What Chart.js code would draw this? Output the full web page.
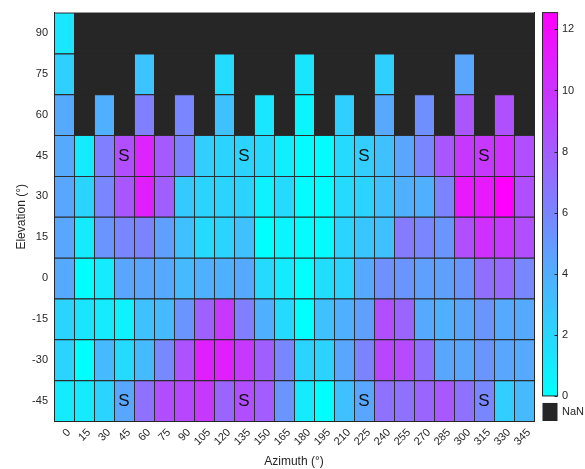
<!DOCTYPE html>
<html>
<head>
<meta charset="utf-8">
<script src="https://cdn.jsdelivr.net/npm/chart.js@4/dist/chart.umd.min.js"></script>
<style>
  html, body { margin: 0; padding: 0; background: #ffffff; }
  #wrap { width: 585px; height: 469px; }
</style>
</head>
<body>
<div id="wrap"><canvas id="heat" width="585" height="469"></canvas></div>
<script>
// Azimuth columns and elevation rows of the grid (degrees)
const azimuths = [0, 15, 30, 45, 60, 75, 90, 105, 120, 135, 150, 165,
                  180, 195, 210, 225, 240, 255, 270, 285, 300, 315, 330, 345];
const elevations = [-45, -30, -15, 0, 15, 30, 45, 60, 75, 90];

// Cell values per elevation row, one entry per azimuth (null = NaN)
const elevM45 = [1.0, 1.0, 2.1, 4.4, 7.0, 8.7, 9.1, 9.8, 7.6, 8.7, 8.0, 5.2,
                 1.0, 0.0, 3.1, 4.4, 7.0, 7.0, 7.6, 8.2, 7.0, 5.9, 2.4, 3.4];
const elevM30 = [2.1, 0.0, 3.4, 1.8, 3.4, 5.8, 8.5, 11.0, 11.0, 9.8, 7.9, 5.9,
                 2.1, 2.1, 4.4, 6.1, 9.1, 8.9, 7.0, 4.4, 4.4, 5.2, 4.4, 4.2];
const elevM15 = [2.1, 1.3, 1.0, 0.7, 3.1, 3.4, 5.2, 7.8, 9.8, 6.3, 3.9, 1.8,
                 0.0, 3.1, 3.9, 4.7, 8.7, 7.6, 4.2, 3.9, 4.4, 5.2, 4.2, 4.2];
const elev0   = [4.2, 0.0, 1.0, 4.4, 4.4, 4.2, 3.4, 3.9, 3.9, 4.2, 1.8, 1.0,
                 0.0, 1.6, 2.1, 4.2, 5.4, 5.2, 4.7, 4.7, 5.2, 7.1, 7.4, 5.9];
const elev15  = [4.4, 1.0, 5.2, 5.9, 6.1, 4.7, 3.1, 1.8, 2.1, 3.1, 0.0, 0.5,
                 0.2, 0.2, 2.1, 2.8, 3.1, 6.5, 5.9, 5.2, 8.7, 10.2, 9.8, 8.7];
const elev30  = [4.4, 2.1, 5.9, 8.3, 11.0, 7.9, 2.6, 2.1, 2.1, 2.1, 0.7, 1.8,
                 0.2, 0.2, 1.8, 2.1, 3.1, 3.9, 3.9, 6.1, 11.3, 11.3, 12.55, 8.7];
const elev45  = [4.2, 1.0, 6.3, 8.7, 10.8, 8.1, 6.2, 2.4, 2.1, 2.1, 1.8, 0.8,
                 0.2, 0.2, 1.8, 2.4, 3.1, 4.4, 5.9, 8.3, 9.8, 9.8, 10.2, 8.7];
const elev60  = [4.2, null, 3.9, null, 6.3, null, 5.9, null, 3.1, null, 1.2, null,
                 0.5, null, 2.3, null, 4.3, null, 5.5, null, 8.3, null, 8.6, null];
const elev75  = [2.3, null, null, null, 2.9, null, null, null, 1.7, null, null, null,
                 1.3, null, null, null, 2.3, null, null, null, 4.4, null, null, null];
const elev90  = [1.2, null, null, null, null, null, null, null, null, null, null, null,
                 null, null, null, null, null, null, null, null, null, null, null, null];

const rowValues = [elevM45, elevM30, elevM15, elev0, elev15, elev30, elev45, elev60, elev75, elev90];

// Colour limits and colourbar ticks
const colorMin = 0;
const colorMax = 12.55;
const colorTicks = [0, 2, 4, 6, 8, 10, 12];

// Cells flagged with an "S" : [azimuth, elevation]
const sMarks = [[45, 45], [135, 45], [225, 45], [315, 45],
                [45, -45], [135, -45], [225, -45], [315, -45]];

const NAN_COLOR = '#262626';
const TEXT_COLOR = '#262626';
const FONT = 'Liberation Sans, Arial, Helvetica, sans-serif';

// "cool" colormap: cyan -> magenta
function coolColor(v) {
  if (v === null || v === undefined) return NAN_COLOR;
  let t = (v - colorMin) / (colorMax - colorMin);
  t = Math.max(0, Math.min(1, t));
  const r = Math.round(255 * t);
  const g = Math.round(255 * (1 - t));
  return `rgb(${r},${g},255)`;
}

const halfStep = (elevations[1] - elevations[0]) / 2;

const datasets = elevations.map((el, ri) => ({
  label: String(el),
  data: azimuths.map(() => [el - halfStep, el + halfStep]),
  backgroundColor: rowValues[ri].map(coolColor),
  borderColor: rowValues[ri].map(v => v === null ? NAN_COLOR : '#2e2e2e'),
  borderWidth: { top: 1, left: 1, right: 0, bottom: 0 },
  borderSkipped: false,
  barPercentage: 1,
  categoryPercentage: 1,
  grouped: false,
  inflateAmount: 0
}));

// Draws the grid backdrop, the "S" flags, the colourbar and the NaN swatch
const decorations = {
  id: 'decorations',
  beforeDatasetsDraw(chart) {
    const a = chart.chartArea;
    const ctx = chart.ctx;
    ctx.save();
    ctx.fillStyle = NAN_COLOR;
    ctx.fillRect(a.left, a.top, a.right - a.left, a.bottom - a.top);
    ctx.restore();
  },
  afterDatasetsDraw(chart) {
    const ctx = chart.ctx;
    const xs = chart.scales.x, ys = chart.scales.y;
    ctx.save();
    ctx.fillStyle = '#111111';
    ctx.font = `17px ${FONT}`;
    ctx.textAlign = 'center';
    ctx.textBaseline = 'middle';
    sMarks.forEach(([az, el]) => {
      const px = xs.getPixelForValue(azimuths.indexOf(az));
      const py = ys.getPixelForValue(el);
      ctx.fillText('S', px, py + 1);
    });
    ctx.restore();
  },
  afterDraw(chart) {
    const ctx = chart.ctx;
    const cb = chart.scales.cbar;
    const area = chart.chartArea;
    const x0 = area.right + 8.5, w = 15;
    const yTop = cb.getPixelForValue(colorMax);
    const yBot = cb.getPixelForValue(colorMin);
    ctx.save();
    const grad = ctx.createLinearGradient(0, yBot, 0, yTop);
    grad.addColorStop(0, coolColor(colorMin));
    grad.addColorStop(1, coolColor(colorMax));
    ctx.fillStyle = grad;
    ctx.fillRect(x0, yTop, w, yBot - yTop);
    ctx.strokeStyle = '#262626';
    ctx.lineWidth = 1;
    ctx.strokeRect(x0, yTop, w, yBot - yTop);
    // small inward tick marks on the right edge
    colorTicks.forEach(v => {
      const y = Math.round(cb.getPixelForValue(v)) + 0.5;
      ctx.beginPath();
      ctx.moveTo(x0 + w, y);
      ctx.lineTo(x0 + w - 3, y);
      ctx.stroke();
    });
    // NaN swatch
    const nTop = yBot + 7, nBot = area.bottom;
    ctx.fillStyle = NAN_COLOR;
    ctx.fillRect(x0, nTop, w, nBot - nTop);
    ctx.fillStyle = TEXT_COLOR;
    ctx.font = `11px ${FONT}`;
    ctx.textAlign = 'left';
    ctx.textBaseline = 'middle';
    ctx.fillText('NaN', x0 + w + 4.5, (nTop + nBot) / 2);
    ctx.restore();
  }
};

new Chart(document.getElementById('heat'), {
  type: 'bar',
  data: { labels: azimuths.map(String), datasets },
  options: {
    responsive: false,
    animation: false,
    events: [],
    layout: { padding: { top: 12, left: 0, right: 0, bottom: 0 } },
    plugins: { legend: { display: false }, tooltip: { enabled: false } },
    scales: {
      x: {
        type: 'category',
        offset: true,
        grid: { display: true, drawOnChartArea: false, drawTicks: false },
        border: { display: true, color: '#262626', width: 1, z: 1 },
        ticks: {
          autoSkip: false, maxRotation: 45, minRotation: 45, labelOffset: 5,
          color: TEXT_COLOR, font: { family: FONT, size: 11 }, padding: 5
        },
        title: {
          display: true, text: 'Azimuth (°)', color: TEXT_COLOR,
          font: { family: FONT, size: 12 }, padding: { top: 0, bottom: 0 }
        },
        afterFit(scale) { scale.height = 48; }
      },
      y: {
        type: 'linear',
        min: elevations[0] - halfStep,
        max: elevations[elevations.length - 1] + halfStep,
        afterBuildTicks(scale) { scale.ticks = elevations.map(v => ({ value: v })); },
        grid: { display: true, drawOnChartArea: false, drawTicks: false },
        border: { display: true, color: '#262626', width: 1, z: 1 },
        ticks: { color: TEXT_COLOR, font: { family: FONT, size: 11 }, padding: 6 },
        title: {
          display: true, text: 'Elevation (°)', color: TEXT_COLOR,
          font: { family: FONT, size: 12 }, padding: { top: 14, bottom: 0 }
        },
        afterFit(scale) { scale.width = 54; }
      },
      cbar: {
        type: 'linear',
        position: 'right',
        min: -0.82,
        max: colorMax,
        afterBuildTicks(scale) { scale.ticks = colorTicks.map(v => ({ value: v })); },
        grid: { display: true, drawOnChartArea: false, drawTicks: true, tickLength: 25, tickColor: 'rgba(0,0,0,0)' },
        border: { display: true, color: '#262626', width: 1, z: 1 },
        ticks: { color: TEXT_COLOR, font: { family: FONT, size: 11 }, padding: 3 },
        afterFit(scale) { scale.width = 51; }
      }
    }
  },
  plugins: [decorations]
});
</script>
</body>
</html>
